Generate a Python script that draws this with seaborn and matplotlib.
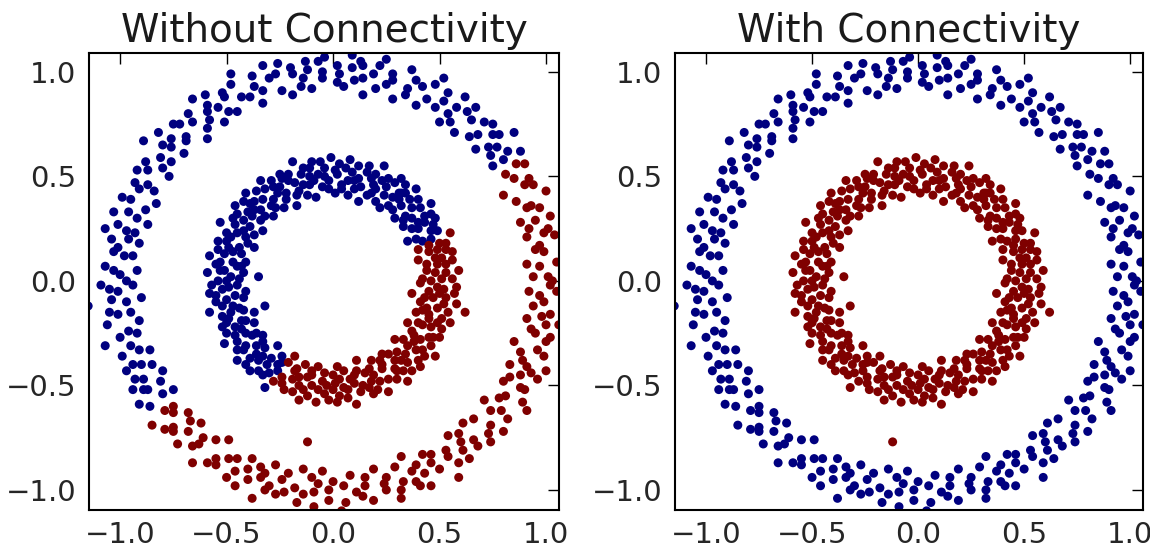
import numpy as np
import pandas as pd
import matplotlib
matplotlib.use("Agg")
import matplotlib.pyplot as plt
import seaborn as sns

# Punkte (x, y), nach Ring und Bereich gruppiert
# Aussenring oben/links (in beiden Bildern blau)
outer_upper = [
    (0.88, 0.62), (0.75, 0.55), (0.80, 0.58), (0.82, 0.62), (0.74, 0.60), (0.85, 0.71), (0.77, 0.64), (0.73, 0.64),
    (0.78, 0.70), (0.67, 0.63), (0.75, 0.70), (0.75, 0.75), (0.68, 0.70), (0.64, 0.69), (0.71, 0.76), (0.65, 0.77),
    (0.57, 0.71), (0.67, 0.83), (0.63, 0.81), (0.55, 0.76), (0.58, 0.83), (0.62, 0.88), (0.54, 0.80), (0.50, 0.76),
    (0.54, 0.90), (0.52, 0.86), (0.48, 0.83), (0.52, 0.97), (0.44, 0.87), (0.48, 0.94), (0.39, 0.84), (0.42, 0.93),
    (0.39, 0.96), (0.34, 0.89), (0.35, 0.92), (0.37, 1.01), (0.28, 0.87), (0.28, 0.99), (0.28, 0.96), (0.25, 0.94),
    (0.25, 1.06), (0.20, 0.92), (0.22, 1.03), (0.19, 0.99), (0.14, 0.89), (0.14, 1.03), (0.14, 0.97), (0.13, 1.05),
    (0.10, 0.96), (0.09, 1.02), (0.09, 1.08), (0.05, 0.93), (0.03, 0.99), (0.02, 1.03), (0.02, 0.95), (-0.04, 1.07),
    (-0.05, 1.00), (-0.05, 0.97), (-0.07, 1.05), (-0.10, 0.92), (-0.12, 1.01), (-0.13, 1.05), (-0.14, 0.97), (-0.15, 0.93),
    (-0.20, 1.02), (-0.19, 0.99), (-0.19, 0.89), (-0.26, 1.04), (-0.27, 0.99), (-0.24, 0.91), (-0.30, 0.97), (-0.33, 1.03),
    (-0.33, 0.91), (-0.33, 0.85), (-0.38, 0.98), (-0.37, 0.93), (-0.39, 0.88), (-0.48, 0.99), (-0.43, 0.88), (-0.48, 0.94),
    (-0.45, 0.81), (-0.51, 0.88), (-0.52, 0.90), (-0.49, 0.81), (-0.54, 0.83), (-0.60, 0.89), (-0.51, 0.76), (-0.59, 0.84),
    (-0.59, 0.81), (-0.58, 0.77), (-0.66, 0.87), (-0.59, 0.73), (-0.68, 0.80), (-0.66, 0.76), (-0.59, 0.68), (-0.72, 0.75),
    (-0.69, 0.69), (-0.75, 0.75), (-0.69, 0.67), (-0.76, 0.68), (-0.82, 0.71), (-0.70, 0.61), (-0.76, 0.64), (-0.80, 0.65),
    (-0.76, 0.57), (-0.89, 0.67), (-0.81, 0.59), (-0.80, 0.54), (-0.88, 0.57), (-0.77, 0.50), (-0.87, 0.53), (-0.92, 0.53),
    (-0.87, 0.46), (-0.84, 0.43), (-0.93, 0.47), (-0.91, 0.44), (-0.83, 0.37), (-0.99, 0.40), (-0.95, 0.39), (-0.88, 0.34),
    (-0.96, 0.33), (-1.03, 0.33), (-0.92, 0.30), (-0.87, 0.27), (-1.01, 0.27), (-0.97, 0.24), (-0.93, 0.23), (-1.07, 0.25),
    (-0.96, 0.20), (-1.04, 0.20), (-0.91, 0.18), (-1.01, 0.16), (-1.03, 0.14), (-0.94, 0.12), (-0.98, 0.12), (-1.07, 0.07),
    (-0.92, 0.05), (-1.03, 0.05), (-1.00, 0.03), (-0.97, 0.00), (-1.09, -0.02), (-0.94, -0.02), (-1.05, -0.04), (-1.01, -0.05),
    (-0.90, -0.08), (-1.04, -0.09), (-0.97, -0.10), (-1.05, -0.15), (-0.95, -0.15), (-1.01, -0.16), (-1.06, -0.21), (-0.91, -0.19),
    (-0.96, -0.24), (-1.00, -0.27), (-0.92, -0.25), (-1.07, -0.31), (-0.95, -0.31), (-0.91, -0.33), (-0.99, -0.36), (-0.86, -0.33),
    (-0.94, -0.40), (-0.97, -0.43), (-0.90, -0.40), (-0.85, -0.40), (-0.93, -0.47), (-0.89, -0.47), (-0.80, -0.43), (-0.94, -0.52),
    (-0.89, -0.52), (-0.81, -0.48), (-0.87, -0.52), (-0.91, -0.59), (-0.80, -0.54), (-0.75, -0.52), (-0.86, -0.60), (-1.15, -0.12),
]

# Aussenring unten/rechts (links rot, rechts blau)
outer_lower = [
    (1.03, 0.00), (0.94, 0.02), (1.01, 0.02), (1.08, 0.06), (0.97, 0.07), (0.91, 0.08), (1.05, 0.09), (0.99, 0.14),
    (0.95, 0.15), (1.09, 0.17), (0.97, 0.17), (1.04, 0.22), (0.91, 0.21), (0.99, 0.23), (1.01, 0.25), (0.92, 0.25),
    (0.95, 0.29), (1.02, 0.31), (0.88, 0.28), (0.97, 0.35), (0.93, 0.36), (0.91, 0.35), (1.00, 0.43), (0.86, 0.38),
    (0.94, 0.46), (0.90, 0.46), (0.80, 0.41), (0.92, 0.49), (0.85, 0.49), (0.90, 0.56), (0.81, 0.51), (0.86, 0.56),
    (-0.79, -0.62), (-0.75, -0.60), (-0.85, -0.69), (-0.75, -0.63), (-0.79, -0.71), (-0.68, -0.63), (-0.75, -0.70), (-0.75, -0.72),
    (-0.67, -0.67), (-0.68, -0.72), (-0.73, -0.78), (-0.62, -0.68), (-0.66, -0.79), (-0.63, -0.78), (-0.61, -0.75), (-0.66, -0.87),
    (-0.55, -0.76), (-0.59, -0.87), (-0.55, -0.85), (-0.49, -0.76), (-0.55, -0.88), (-0.49, -0.85), (-0.50, -0.94), (-0.45, -0.85),
    (-0.46, -0.91), (-0.46, -0.98), (-0.38, -0.85), (-0.40, -0.90), (-0.40, -0.95), (-0.34, -0.89), (-0.38, -1.04), (-0.34, -0.94),
    (-0.32, -0.92), (-0.32, -1.00), (-0.27, -0.88), (-0.30, -0.98), (-0.27, -1.02), (-0.24, -0.95), (-0.21, -0.92), (-0.23, -1.01),
    (-0.18, -0.99), (-0.14, -0.90), (-0.17, -1.06), (-0.14, -1.02), (-0.10, -0.94), (-0.09, -1.01), (-0.09, -1.08), (-0.07, -0.97),
    (-0.05, -0.91), (-0.02, -1.05), (-0.02, -1.00), (0.00, -0.96), (0.04, -1.10), (0.05, -0.98), (0.06, -1.06), (0.08, -0.93),
    (0.11, -1.01), (0.14, -1.03), (0.15, -0.94), (0.15, -0.98), (0.19, -1.05), (0.19, -0.90), (0.25, -1.00), (0.24, -0.97),
    (0.25, -0.94), (0.32, -1.04), (0.29, -0.89), (0.32, -1.00), (0.33, -0.96), (0.32, -0.84), (0.39, -0.96), (0.37, -0.91),
    (0.41, -0.98), (0.39, -0.88), (0.43, -0.92), (0.46, -0.98), (0.42, -0.83), (0.46, -0.87), (0.50, -0.90), (0.46, -0.83),
    (0.59, -0.94), (0.54, -0.84), (0.53, -0.81), (0.59, -0.87), (0.54, -0.74), (0.61, -0.81), (0.64, -0.85), (0.60, -0.77),
    (0.59, -0.73), (0.68, -0.79), (0.66, -0.76), (0.61, -0.68), (0.74, -0.77), (0.73, -0.73), (0.66, -0.66), (0.74, -0.69),
    (0.80, -0.72), (0.74, -0.62), (0.71, -0.57), (0.82, -0.66), (0.79, -0.62), (0.78, -0.56), (0.91, -0.62), (0.81, -0.55),
    (0.89, -0.58), (0.80, -0.48), (0.88, -0.51), (0.90, -0.52), (0.83, -0.46), (0.88, -0.45), (0.96, -0.47), (0.83, -0.40),
    (0.93, -0.44), (0.91, -0.41), (0.89, -0.38), (1.00, -0.43), (0.88, -0.34), (0.99, -0.36), (0.96, -0.33), (0.85, -0.29),
    (1.00, -0.29), (0.95, -0.25), (1.02, -0.27), (0.93, -0.23), (1.00, -0.21), (1.06, -0.21), (0.91, -0.18), (0.98, -0.17),
    (1.02, -0.16), (0.94, -0.12), (1.10, -0.14), (0.99, -0.10), (0.97, -0.07), (1.05, -0.05), (0.92, -0.05), (1.02, -0.02),
]

# Innenring oben/links (links blau, rechts rot)
inner_upper = [
    (0.42, 0.19), (0.46, 0.20), (0.49, 0.24), (0.39, 0.20), (0.46, 0.24), (0.35, 0.19), (0.47, 0.27), (0.48, 0.30),
    (0.40, 0.25), (0.43, 0.28), (0.37, 0.25), (0.46, 0.32), (0.40, 0.28), (0.43, 0.31), (0.33, 0.26), (0.46, 0.37),
    (0.37, 0.30), (0.41, 0.35), (0.33, 0.29), (0.34, 0.31), (0.40, 0.39), (0.37, 0.35), (0.29, 0.30), (0.36, 0.39),
    (0.39, 0.44), (0.32, 0.36), (0.28, 0.34), (0.34, 0.42), (0.31, 0.39), (0.34, 0.46), (0.26, 0.36), (0.31, 0.42),
    (0.28, 0.40), (0.32, 0.49), (0.22, 0.35), (0.29, 0.47), (0.24, 0.41), (0.25, 0.45), (0.26, 0.49), (0.20, 0.38),
    (0.23, 0.48), (0.20, 0.44), (0.24, 0.55), (0.18, 0.42), (0.19, 0.46), (0.20, 0.51), (0.16, 0.41), (0.18, 0.49),
    (0.12, 0.38), (0.16, 0.52), (0.17, 0.55), (0.13, 0.45), (0.12, 0.49), (0.10, 0.44), (0.12, 0.55), (0.10, 0.48),
    (0.09, 0.52), (0.07, 0.41), (0.08, 0.58), (0.07, 0.48), (0.06, 0.54), (0.04, 0.44), (0.04, 0.46), (0.03, 0.56),
    (0.02, 0.51), (0.01, 0.42), (0.01, 0.53), (-0.01, 0.59), (-0.02, 0.48), (-0.02, 0.44), (-0.04, 0.54), (-0.04, 0.50),
    (-0.06, 0.57), (-0.05, 0.45), (-0.07, 0.51), (-0.09, 0.48), (-0.10, 0.57), (-0.08, 0.40), (-0.11, 0.54), (-0.11, 0.46),
    (-0.11, 0.50), (-0.14, 0.54), (-0.12, 0.41), (-0.15, 0.51), (-0.14, 0.46), (-0.19, 0.57), (-0.16, 0.43), (-0.18, 0.47),
    (-0.21, 0.51), (-0.17, 0.41), (-0.21, 0.48), (-0.17, 0.36), (-0.24, 0.49), (-0.25, 0.51), (-0.22, 0.42), (-0.25, 0.45),
    (-0.22, 0.39), (-0.29, 0.48), (-0.26, 0.42), (-0.28, 0.45), (-0.23, 0.35), (-0.34, 0.48), (-0.28, 0.39), (-0.32, 0.44),
    (-0.27, 0.35), (-0.29, 0.36), (-0.36, 0.43), (-0.33, 0.39), (-0.28, 0.31), (-0.37, 0.38), (-0.41, 0.42), (-0.34, 0.34),
    (-0.32, 0.31), (-0.39, 0.37), (-0.37, 0.34), (-0.42, 0.38), (-0.34, 0.29), (-0.40, 0.33), (-0.38, 0.31), (-0.46, 0.36),
    (-0.33, 0.24), (-0.45, 0.32), (-0.39, 0.26), (-0.42, 0.29), (-0.47, 0.30), (-0.37, 0.22), (-0.46, 0.27), (-0.42, 0.24),
    (-0.53, 0.28), (-0.41, 0.21), (-0.45, 0.23), (-0.50, 0.23), (-0.40, 0.18), (-0.48, 0.21), (-0.37, 0.16), (-0.50, 0.19),
    (-0.54, 0.19), (-0.44, 0.16), (-0.49, 0.16), (-0.43, 0.13), (-0.54, 0.15), (-0.47, 0.14), (-0.51, 0.13), (-0.41, 0.09),
    (-0.58, 0.12), (-0.47, 0.09), (-0.53, 0.09), (-0.43, 0.07), (-0.45, 0.07), (-0.55, 0.08), (-0.51, 0.05), (-0.42, 0.04),
    (-0.53, 0.05), (-0.59, 0.04), (-0.48, 0.02), (-0.44, 0.01), (-0.54, 0.00), (-0.50, 0.00), (-0.57, -0.02), (-0.45, -0.02),
    (-0.52, -0.04), (-0.49, -0.03), (-0.58, -0.06), (-0.41, -0.05), (-0.55, -0.07), (-0.46, -0.07), (-0.50, -0.09), (-0.55, -0.10),
    (-0.42, -0.08), (-0.52, -0.12), (-0.47, -0.12), (-0.58, -0.15), (-0.44, -0.13), (-0.48, -0.15), (-0.52, -0.17), (-0.42, -0.14),
    (-0.49, -0.18), (-0.37, -0.15), (-0.50, -0.20), (-0.52, -0.22), (-0.43, -0.19), (-0.46, -0.22), (-0.41, -0.19), (-0.50, -0.25),
    (-0.43, -0.23), (-0.46, -0.26), (-0.37, -0.20), (-0.51, -0.30), (-0.41, -0.25), (-0.45, -0.29), (-0.36, -0.25), (-0.38, -0.26),
    (-0.45, -0.33), (-0.41, -0.31), (-0.33, -0.26), (-0.42, -0.33), (-0.45, -0.38), (-0.36, -0.31), (-0.33, -0.29), (-0.39, -0.37),
    (-0.36, -0.35), (-0.41, -0.40), (-0.32, -0.32), (-0.35, -0.38), (-0.33, -0.36), (-0.39, -0.43), (-0.26, -0.31), (-0.35, -0.43),
    (-0.29, -0.37), (-0.31, -0.40), (-0.33, -0.45), (-0.24, -0.36), (-0.30, -0.44), (-0.26, -0.40), (-0.32, -0.51), (-0.24, -0.39),
    (-0.26, -0.43), (-0.32, -0.12), (-0.35, 0.02), (0.32, 0.42),
]

# Innenring unten/rechts (in beiden Bildern rot)
inner_lower = [
    (0.46, 0.00), (0.56, 0.01), (0.51, 0.01), (0.42, 0.01), (0.53, 0.04), (0.59, 0.05), (0.48, 0.04), (0.44, 0.05),
    (0.53, 0.08), (0.49, 0.08), (0.56, 0.10), (0.44, 0.08), (0.51, 0.11), (0.48, 0.11), (0.56, 0.14), (0.40, 0.10),
    (0.53, 0.15), (0.45, 0.14), (0.49, 0.15), (0.53, 0.18), (0.40, 0.15), (0.50, 0.18), (0.45, 0.17), (0.55, 0.23),
    (-0.28, -0.48), (-0.21, -0.39), (-0.24, -0.46), (-0.18, -0.36), (-0.24, -0.49), (-0.23, -0.52), (-0.18, -0.43), (-0.19, -0.47),
    (-0.17, -0.42), (-0.19, -0.53), (-0.16, -0.46), (-0.16, -0.50), (-0.13, -0.40), (-0.16, -0.57), (-0.12, -0.46), (-0.14, -0.52),
    (-0.10, -0.43), (-0.10, -0.45), (-0.12, -0.55), (-0.10, -0.50), (-0.07, -0.41), (-0.07, -0.52), (-0.08, -0.58), (-0.05, -0.48),
    (-0.04, -0.44), (-0.04, -0.54), (-0.03, -0.50), (-0.02, -0.57), (0.00, -0.45), (0.00, -0.52), (0.01, -0.49), (0.02, -0.58),
    (0.02, -0.41), (0.03, -0.55), (0.03, -0.47), (0.05, -0.51), (0.07, -0.56), (0.05, -0.43), (0.07, -0.52), (0.08, -0.47),
    (0.11, -0.59), (0.10, -0.45), (0.10, -0.49), (0.13, -0.53), (0.11, -0.43), (0.14, -0.50), (0.11, -0.38), (0.17, -0.51),
    (0.19, -0.54), (0.15, -0.44), (0.18, -0.48), (0.17, -0.42), (0.21, -0.52), (0.19, -0.45), (0.22, -0.48), (0.18, -0.38),
    (0.26, -0.53), (0.23, -0.42), (0.26, -0.47), (0.22, -0.38), (0.23, -0.40), (0.30, -0.47), (0.29, -0.42), (0.23, -0.35),
    (0.30, -0.43), (0.35, -0.48), (0.29, -0.38), (0.26, -0.35), (0.33, -0.43), (0.32, -0.38), (0.37, -0.43), (0.30, -0.34),
    (0.35, -0.39), (0.34, -0.35), (0.41, -0.41), (0.29, -0.28), (0.40, -0.38), (0.35, -0.31), (0.39, -0.33), (0.43, -0.36),
    (0.33, -0.28), (0.42, -0.33), (0.38, -0.29), (0.48, -0.36), (0.38, -0.26), (0.41, -0.28), (0.46, -0.31), (0.37, -0.24),
    (0.45, -0.27), (0.35, -0.20), (0.47, -0.27), (0.50, -0.27), (0.42, -0.21), (0.46, -0.22), (0.40, -0.20), (0.51, -0.23),
    (0.45, -0.18), (0.49, -0.20), (0.39, -0.15), (0.55, -0.20), (0.45, -0.16), (0.51, -0.18), (0.42, -0.14), (0.44, -0.13),
    (0.54, -0.15), (0.49, -0.13), (0.41, -0.10), (0.52, -0.11), (0.58, -0.11), (0.47, -0.08), (0.43, -0.08), (0.53, -0.08),
    (0.50, -0.06), (0.57, -0.06), (0.45, -0.05), (0.52, -0.04), (0.49, -0.03), (0.58, -0.03), (0.41, -0.01), (0.62, -0.15),
    (-0.12, -0.77), (0.37, -0.06),
]

titles = ["Without Connectivity", "With Connectivity"]
# Farbe je Gruppe: links (ohne), rechts (mit Konnektivitaet)
labels_left = {"outer_upper": 0, "outer_lower": 1, "inner_upper": 0, "inner_lower": 1}
labels_right = {"outer_upper": 0, "outer_lower": 0, "inner_upper": 1, "inner_lower": 1}
ticks = [-1.0, -0.5, 0.0, 0.5, 1.0]

groups = {
    "outer_upper": outer_upper,
    "outer_lower": outer_lower,
    "inner_upper": inner_upper,
    "inner_lower": inner_lower,
}

frames = []
for name, pts in groups.items():
    arr = np.array(pts)
    frames.append(pd.DataFrame({"x": arr[:, 0], "y": arr[:, 1], "gruppe": name}))
df = pd.concat(frames, ignore_index=True)

sns.set_style("white")
plt.rcParams["font.family"] = ["DejaVu Sans"]

fig = plt.figure(figsize=(11.5, 5.47), dpi=100)
ax_left = fig.add_axes([0.0774, 0.0676, 0.4087, 0.8355])
ax_right = fig.add_axes([0.587, 0.0676, 0.407, 0.8355])

palette = {0: "#00007f", 1: "#7f0000"}

for ax, title, labels in zip([ax_left, ax_right], titles, [labels_left, labels_right]):
    d = df.copy()
    d["cluster"] = d["gruppe"].map(labels)
    sns.scatterplot(data=d, x="x", y="y", hue="cluster", palette=palette,
                    s=42, linewidth=0, legend=False, ax=ax)
    ax.set_xlim(-1.146, 1.061)
    ax.set_ylim(-1.096, 1.09)
    ax.set_xticks(ticks)
    ax.set_yticks(ticks)
    ax.set_xlabel("")
    ax.set_ylabel("")
    ax.set_title(title, fontsize=28, color="#1a1a1a", pad=8)
    ax.tick_params(direction="in", top=True, right=True, length=8, width=1,
                   color="black", labelsize=21, labelcolor="#262626")
    ax.tick_params(axis="x", pad=8)
    ax.tick_params(axis="y", pad=9)
    for sp in ax.spines.values():
        sp.set_color("black")
        sp.set_linewidth(1.5)

fig.savefig("out.png", dpi=100)
